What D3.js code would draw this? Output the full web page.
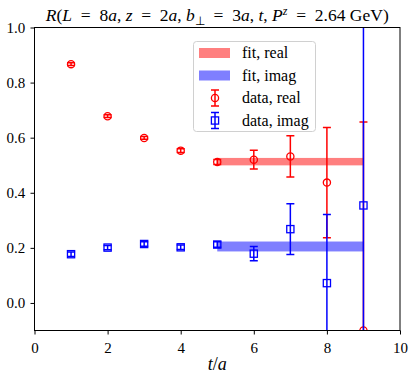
<!DOCTYPE html>
<html><head><meta charset="utf-8">
<script src="https://cdn.jsdelivr.net/npm/d3@7"></script>
<style>body{margin:0;background:#fff}svg{display:block}</style>
</head><body><svg id="c" width="416" height="382" style="font-family:'Liberation Serif'"></svg>
<script>
const tRe = [1,2,3,4,5,6,7,8,9];
const realVal = [0.867,0.678,0.599,0.553,0.512,0.520,0.532,0.437,-0.100];
const realErr = [0.005,0.005,0.005,0.007,0.009,0.034,0.075,0.200,0.757];
const tIm = [1,2,3,4,5,6,7,8,9];
const imagVal = [0.177,0.201,0.214,0.202,0.212,0.179,0.268,0.072,0.354];
const imagErr = [0.008,0.008,0.008,0.008,0.010,0.026,0.092,0.249,0.900];
const fitRange = [5,9];
const fitReal = [0.513,0.0135];
const fitImag = [0.205,0.018];
const xTicks = [0,2,4,6,8,10];
const yTicks = [0.0,0.2,0.4,0.6,0.8,1.0];

const FF = "font-family:'Liberation Serif';";
const svg = d3.select("#c");
const L=34.5,R=400,T=27.5,B=330.5;
const x = d3.scaleLinear().domain([0,10]).range([L,R]);
const y = d3.scaleLinear().domain([-0.1,1.0]).range([B,T]);

svg.append("defs").append("clipPath").attr("id","cp").append("rect")
  .attr("x",L).attr("y",T).attr("width",R-L).attr("height",B-T);
const g = svg.append("g").attr("clip-path","url(#cp)");

function errbars(ts,vals,errs,color,shape){
  ts.forEach((t,i)=>{
    const cx=x(t), v=vals[i], e=errs[i];
    g.append("line").attr("x1",cx).attr("x2",cx).attr("y1",y(v-e)).attr("y2",y(v+e))
      .attr("stroke",color).attr("stroke-width",1.5);
    [v-e,v+e].forEach(yy=>g.append("line").attr("x1",cx-4).attr("x2",cx+4)
      .attr("y1",y(yy)).attr("y2",y(yy)).attr("stroke",color).attr("stroke-width",1.5));
    if(shape==="circle") g.append("circle").attr("cx",cx).attr("cy",y(v)).attr("r",3.6)
      .attr("fill","none").attr("stroke",color).attr("stroke-width",1.3);
    else g.append("rect").attr("x",cx-3.6).attr("y",y(v)-3.6).attr("width",7.2).attr("height",7.2)
      .attr("fill","none").attr("stroke",color).attr("stroke-width",1.3);
  });
}
errbars(tRe,realVal,realErr,"#ff0000","circle");
[[fitReal,"rgba(255,0,0,0.5)"],[fitImag,"rgba(0,0,255,0.5)"]].forEach(([f,c])=>{
  g.append("rect").attr("x",x(fitRange[0])).attr("width",x(fitRange[1])-x(fitRange[0]))
   .attr("y",y(f[0]+f[1])).attr("height",y(f[0]-f[1])-y(f[0]+f[1])).attr("fill",c);
});
errbars(tIm,imagVal,imagErr,"#0000ff","square");

svg.append("rect").attr("x",L).attr("y",T).attr("width",R-L).attr("height",B-T)
  .attr("fill","none").attr("stroke","#000").attr("stroke-width",1);

const xa = svg.append("g").attr("transform",`translate(0,${B})`)
  .call(d3.axisBottom(x).tickValues(xTicks).tickFormat(d3.format("d")).tickSize(4).tickSizeOuter(0));
const ya = svg.append("g").attr("transform",`translate(${L},0)`)
  .call(d3.axisLeft(y).tickValues(yTicks).tickFormat(d3.format(".1f")).tickSize(4).tickSizeOuter(0));
[xa,ya].forEach(a=>{a.select(".domain").remove();
  a.attr("font-family",null).attr("font-size",null);
  a.selectAll("text").attr("style",FF+"font-size:15px").attr("fill","#000");
  a.selectAll("line").attr("stroke","#000");});
xa.selectAll("text").attr("dy","1.0em");
ya.selectAll("text").attr("dx","-0.15em");

const xl = svg.append("text").attr("x",(L+R)/2).attr("y",370).attr("text-anchor","middle").attr("style",FF+"font-size:18px");
xl.append("tspan").attr("font-style","italic").text("t");
xl.append("tspan").text("/");
xl.append("tspan").attr("font-style","italic").text("a");

const tt = svg.append("text").attr("x",(L+R)/2).attr("y",21).attr("text-anchor","middle").attr("style",FF+"font-size:17.5px");
const S = "\u2002";
const parts = [["R",1],["(",0],["L",1],[S+"="+S+"8",0],["a",1],[", ",0],["z",1],[S+"="+S+"2",0],["a",1],[",  ",0],["b",1],["⊥",2],[S+"="+S+"3",0],["a",1],[", ",0],["t",1],[",  ",0],["P",1],["z",3],[S+"="+S+"2.64 GeV)",0]];
parts.forEach(([s,k],i)=>{
  const sp = tt.append("tspan").text(s);
  if(k===1) sp.attr("font-style","italic");
  if(k===2) sp.attr("font-size","12px").attr("dy","4");
  if(k===3) sp.attr("font-size","12px").attr("font-style","italic").attr("dy","-6");
  if(i>0 && parts[i-1][1]===2) sp.attr("dy","-4");
  if(i>0 && parts[i-1][1]===3) sp.attr("dy","6");
});

const lg = svg.append("g");
lg.append("rect").attr("x",193.5).attr("y",41.5).attr("width",122).attr("height",90).attr("rx",3)
  .attr("fill","rgba(255,255,255,0.8)").attr("stroke","#d0d0d0").attr("stroke-width",1);
const items = [["fit, real","band","rgba(255,0,0,0.5)"],["fit, imag","band","rgba(0,0,255,0.5)"],
  ["data, real","circle","#ff0000"],["data, imag","square","#0000ff"]];
items.forEach((it,i)=>{
  const cy = 53 + i*22.5;
  if(it[1]==="band") lg.append("rect").attr("x",199).attr("y",cy-5).attr("width",31).attr("height",10).attr("fill",it[2]);
  else {
    const cx=215;
    lg.append("line").attr("x1",cx).attr("x2",cx).attr("y1",cy-8).attr("y2",cy+8).attr("stroke",it[2]).attr("stroke-width",1.5);
    [cy-8,cy+8].forEach(yy=>lg.append("line").attr("x1",cx-4).attr("x2",cx+4).attr("y1",yy).attr("y2",yy).attr("stroke",it[2]).attr("stroke-width",1.5));
    if(it[1]==="circle") lg.append("circle").attr("cx",cx).attr("cy",cy).attr("r",3.6).attr("fill","none").attr("stroke",it[2]).attr("stroke-width",1.3);
    else lg.append("rect").attr("x",cx-3.6).attr("y",cy-3.6).attr("width",7.2).attr("height",7.2).attr("fill","none").attr("stroke",it[2]).attr("stroke-width",1.3);
  }
  lg.append("text").attr("x",242).attr("y",cy+5).attr("style",FF+"font-size:16px").text(it[0]);
});
</script></body></html>
